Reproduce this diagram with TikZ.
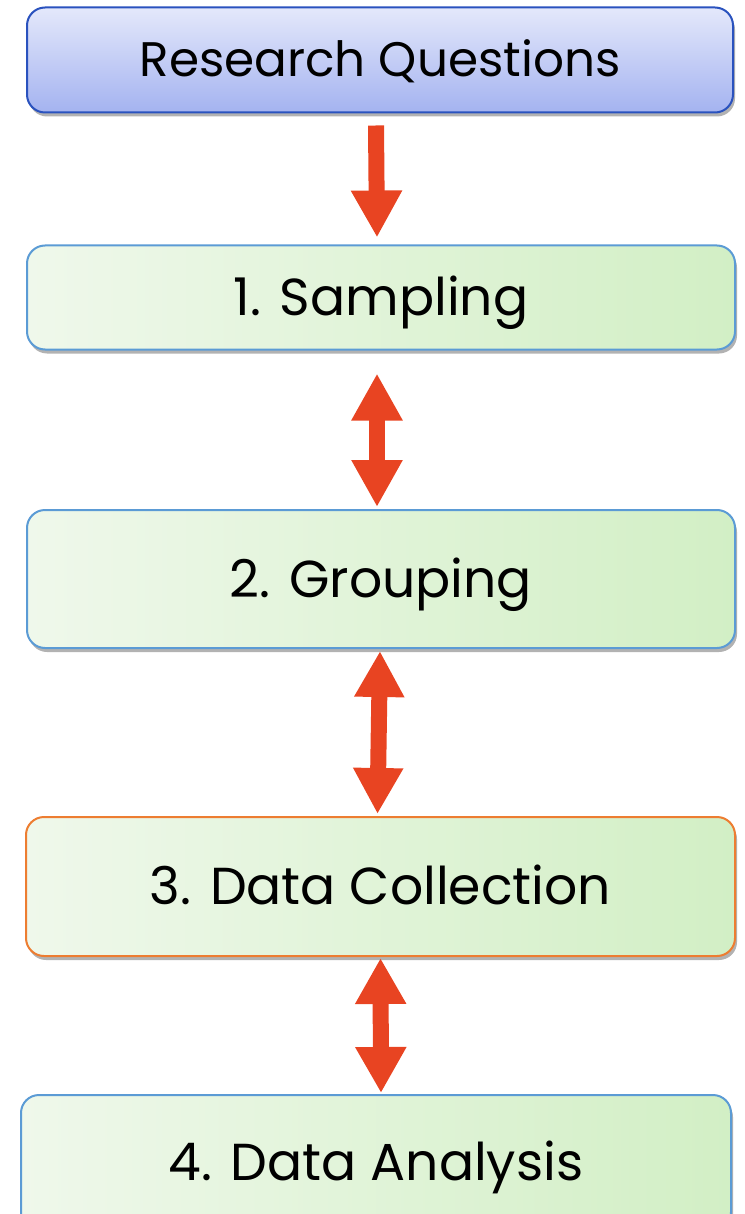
\documentclass[tikz,border=0pt]{standalone}
\usepackage{fontspec}
\setmainfont{Poppins}
\usetikzlibrary{arrows.meta,shadows}
\definecolor{arrowred}{HTML}{E84422}
\definecolor{rqborder}{HTML}{2A52BE}
\definecolor{rqtop}{HTML}{E4E8FB}
\definecolor{rqbot}{HTML}{A4B3F0}
\definecolor{bxborder}{HTML}{5B9BD5}
\definecolor{orborder}{HTML}{ED7D31}
\definecolor{grleft}{HTML}{EFF8EB}
\definecolor{grright}{HTML}{D2EFC5}
\tikzset{
  x=1pt, y=1pt,
  box/.style={rectangle, rounded corners=18pt, line width=2pt, inner sep=0pt,
    text=black, text depth=0pt,
    drop shadow={shadow xshift=2pt, shadow yshift=-4pt, opacity=0.3, fill=black}},
  greenbox/.style={box, draw=bxborder, left color=grleft, right color=grright,
    font=\fontsize{52}{56}\selectfont, text height=36pt},
  bluebox/.style={box, draw=rqborder, top color=rqtop, bottom color=rqbot,
    font=\fontsize{48.5}{52}\selectfont, text height=34pt},
  arr/.style={draw=arrowred, line width=16pt}
}
\begin{document}
\begin{tikzpicture}
\useasboundingbox (0,0) rectangle (744,-1214);
\node[bluebox, minimum width=706pt, minimum height=105pt] (rq) at (380,-60) {Research Questions};
\node[greenbox, minimum width=708pt, minimum height=104pt] (s1) at (381,-297.5) {1. Sampling};
\node[greenbox, minimum width=708pt, minimum height=138pt] (s2) at (381,-579) {2. Grouping};
\node[greenbox, draw=orborder, minimum width=709pt, minimum height=139pt] (s3) at (380.5,-886.5) {3. Data Collection};
\node[greenbox, minimum width=710pt, minimum height=135pt] (s4) at (376,-1162.5) {4. Data Analysis};
\draw[arr, -{Triangle[width=48pt,length=47pt]}]
  ([xshift=-4pt,yshift=-12pt]rq.south) -- ([xshift=-4pt,yshift=7pt]s1.north);
\draw[arr, {Triangle[width=48pt,length=47pt]}-{Triangle[width=48pt,length=47pt]}]
  ([xshift=-4pt,yshift=-23pt]s1.south) -- ([xshift=-4pt,yshift=2pt]s2.north);
\draw[arr, {Triangle[width=47pt,length=46pt]}-{Triangle[width=47pt,length=46pt]}]
  ([xshift=-1pt,yshift=-2pt]s2.south) -- ([xshift=-3pt,yshift=2pt]s3.north);
\draw[arr, {Triangle[width=48pt,length=46pt]}-{Triangle[width=48pt,length=46pt]}]
  ([xshift=0pt,yshift=-1pt]s3.south) -- ([xshift=5pt,yshift=1pt]s4.north);
\end{tikzpicture}
\end{document}
